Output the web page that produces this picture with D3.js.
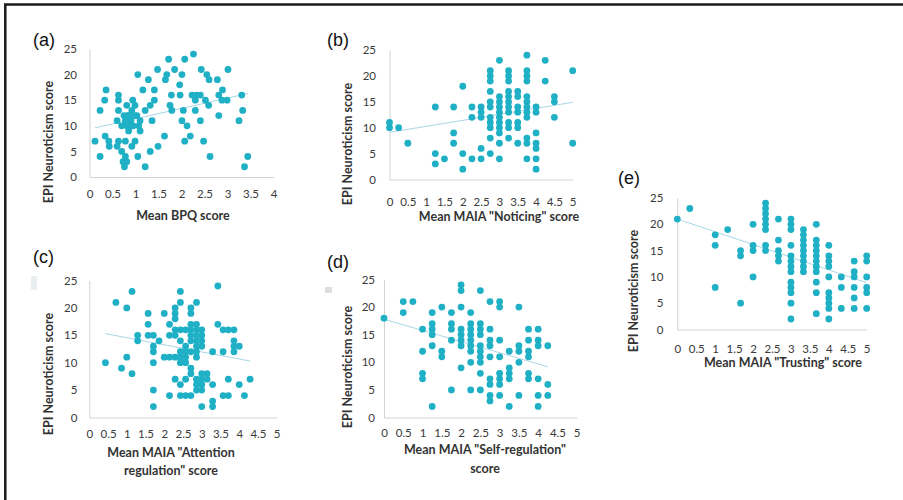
<!DOCTYPE html>
<html><head><meta charset="utf-8">
<script src="https://cdn.jsdelivr.net/npm/d3@7"></script>
<style>
body{margin:0;background:#fff}
svg{display:block}
</style></head><body>
<svg id="chart" width="903" height="500"></svg>
<script>
// ---------- DATA ----------
const yTicks = [0, 5, 10, 15, 20, 25];
const bpqTicks = [0, 0.5, 1, 1.5, 2, 2.5, 3, 3.5, 4];
const maiaTicks = [0, 0.5, 1, 1.5, 2, 2.5, 3, 3.5, 4, 4.5, 5];

// (a) grouped by neuroticism score: level -> BPQ x values
const aLevels = [24, 23, 21, 20, 19, 18, 17, 16, 15, 14, 13, 12, 11, 10, 9, 8, 7, 6, 5, 4, 3, 2];
const aXs = [
  [2.26],
  [1.72, 2.07],
  [1.48, 1.85, 2.43, 3.01],
  [1.05, 1.68, 2.01, 2.55],
  [1.28, 1.65, 2.60, 2.78],
  [1.96],
  [0.36, 1.16, 1.41, 2.89],
  [0.63, 1.78, 1.97, 2.23, 2.33, 2.41, 2.81, 3.31],
  [0.33, 0.63, 0.94, 1.41, 2.30, 2.52, 2.88, 2.99],
  [0.81, 0.99, 1.32, 1.75, 2.59],
  [0.23, 0.63, 0.92, 1.21, 1.79, 2.04, 2.30, 3.33],
  [0.85, 1.03, 2.81, 0.83, 0.75, 0.98],
  [0.60, 0.78, 0.88, 1.10, 1.36, 2.01, 2.41, 3.25, 0.90, 0.86, 0.80],
  [0.70, 0.81, 0.92, 1.07, 2.12, 0.95, 0.88],
  [0.85, 1.10],
  [0.34, 1.63, 2.19],
  [0.12, 0.42, 0.63, 0.78, 0.99, 2.07, 2.48],
  [0.43, 0.60, 0.92, 1.49],
  [0.70, 1.32],
  [0.23, 0.78, 1.05, 2.62, 3.44],
  [0.73, 0.81],
  [0.76, 1.21, 3.37]
];
const aTrend = [[0.12, 9.6], [3.44, 16.3]];

// (b) Noticing: column x -> scores
const bCols = [0, 0.25, 0.5, 1.25, 1.5, 1.75, 2, 2.25, 2.5, 2.75, 3, 3.25, 3.5, 3.75, 4, 4.25, 4.5, 5];
const bVals = [
  [11, 10], [10], [7], [14, 5, 3], [4], [14, 9, 7], [18, 5, 2], [14, 12, 4],
  [14, 13, 12, 6, 4],
  [21, 20, 19, 17, 15, 14, 12, 11, 10, 8, 5],
  [23, 16, 15, 14, 13, 12, 11, 10, 9, 7, 4],
  [21, 20, 19, 17, 16, 15, 14, 13, 11, 10, 8],
  [17, 16, 14, 13, 11, 10, 7],
  [24, 21, 20, 19, 16, 15, 14, 13, 12, 8, 7, 4],
  [14, 13, 9, 7, 6, 4, 2],
  [23, 19], [16, 15, 12], [21, 7]
];
const bTrend = [[0, 9.1], [5, 14.9]];

// (c) Attention regulation
const cCols = [0.43, 0.71, 0.86, 1.0, 1.14, 1.29, 1.57, 1.71, 1.86, 2.0, 2.14, 2.29, 2.43, 2.57, 2.71, 2.86, 3.0, 3.14, 3.29, 3.43, 3.57, 3.71, 3.86, 4.0, 4.14, 4.29];
const cVals = [
  [10], [21], [9], [20, 11], [23, 8], [15, 14], [19, 17, 15], [15, 13, 12, 10, 5, 2], [14], [19, 11],
  [17, 15, 11, 4],
  [20, 19, 18, 16, 15, 11, 7],
  [23, 21, 16, 14, 12, 11, 10, 6, 4],
  [16, 13, 12, 11, 10, 7, 4],
  [20, 19, 17, 16, 15, 14, 12, 9, 8, 4],
  [21, 17, 16, 15, 14, 13, 12, 11, 7, 6, 5],
  [16, 15, 14, 13, 8, 7, 6, 5, 2],
  [8, 7], [12, 6, 3, 2], [24, 17], [16, 12, 4], [16, 7, 4], [16, 14, 13, 12], [13, 6], [4], [7]
];
const cTrend = [[0.43, 15.3], [4.29, 10.3]];

// (d) Self-regulation
const dCols = [0, 0.5, 0.75, 1.0, 1.25, 1.5, 1.75, 2.0, 2.25, 2.5, 2.75, 3.0, 3.25, 3.5, 3.75, 4.0, 4.25];
const dVals = [
  [18], [21, 19], [21], [16, 12, 8, 7], [19, 17, 16, 15, 13, 2], [20, 12, 11], [19, 17, 16, 14, 5],
  [24, 23, 20, 16, 15, 14, 13, 9],
  [19, 17, 16, 15, 14, 13, 12, 10, 5],
  [23, 17, 16, 15, 13, 12, 11, 10, 8, 5],
  [21, 16, 14, 13, 11, 7, 6, 4, 3],
  [21, 20, 14, 11, 8, 7, 6, 4],
  [12, 9, 8, 7, 2], [20, 13, 12, 10, 4], [16, 14, 12, 11, 8, 7], [16, 14, 13, 7, 4, 2], [13, 6, 4]
];
const dTrend = [[0, 17.8], [4.25, 9.2]];

// (e) Trusting
const eCols = [0, 0.33, 1.0, 1.33, 1.67, 2.0, 2.33, 2.67, 3.0, 3.33, 3.67, 4.0, 4.33, 4.67, 5.0];
const eVals = [
  [21], [23], [18, 16, 8], [19], [15, 14, 5], [20, 16, 15, 10],
  [24, 23, 22, 21, 20, 19, 16, 15],
  [21, 17, 15, 14, 13],
  [21, 20, 19, 16, 14, 13, 12, 11, 9, 8, 7, 5, 2],
  [19, 18, 17, 16, 15, 14, 13, 12, 11],
  [20, 17, 16, 15, 14, 13, 12, 11, 9, 7, 3],
  [16, 14, 13, 12, 10, 7, 6, 5, 4, 2],
  [10, 8, 4], [13, 11, 10, 8, 6, 4], [14, 13, 10, 8, 7, 4]
];
const eTrend = [[0, 21.0], [5, 8.9]];

const yTitle = "EPI Neuroticism score";

// ---------- DRAW ----------
const svg = d3.select("#chart");
svg.append("rect").attr("width", 903).attr("height", 500).attr("fill", "#fff");
svg.append("path").attr("d", "M5.3,500V4.5H903").attr("fill", "none")
  .attr("stroke", "#1a1a1a").attr("stroke-width", 2.5);

const DOT = "#1fb0c6";

function byCols(cols, vals) {
  const pts = [];
  cols.forEach((c, i) => vals[i].forEach(v => pts.push([c, v])));
  return pts;
}
function byRows(levels, xs) {
  const pts = [];
  levels.forEach((l, i) => xs[i].forEach(v => pts.push([v, l])));
  return pts;
}

function drawPanel(p) {
  const x = d3.scaleLinear().domain(p.xDomain).range(p.xRange);
  const y = d3.scaleLinear().domain([0, 25]).range([p.y0, p.y25]);
  const g = svg.append("g");

  const xa = g.append("g").attr("transform", `translate(0,${p.y0})`)
    .call(d3.axisBottom(x).tickValues(p.xTicks).tickSize(0).tickPadding(p.xPad).tickFormat(d => String(d)));
  const ya = g.append("g").attr("transform", `translate(${p.xRange[0]},0)`)
    .call(d3.axisLeft(y).tickValues(yTicks).tickSize(0).tickPadding(p.yPad).tickFormat(d => String(d)));
  [xa, ya].forEach(a => {
    a.select(".domain").attr("stroke", "#d2d2d2").attr("stroke-width", 1);
    a.selectAll("text").attr("font-family", "Lato, 'Open Sans', sans-serif")
      .attr("font-size", 11.5).attr("fill", "#3a3a3a");
  });

  g.append("line")
    .attr("x1", x(p.trend[0][0])).attr("y1", y(p.trend[0][1]))
    .attr("x2", x(p.trend[1][0])).attr("y2", y(p.trend[1][1]))
    .attr("stroke", "#a9d6e6").attr("stroke-width", 1);

  g.selectAll("circle.pt").data(p.points).join("circle").attr("class", "pt")
    .attr("cx", d => x(d[0])).attr("cy", d => y(d[1])).attr("r", 3.4).attr("fill", DOT);

  g.append("text").attr("x", p.letter[0]).attr("y", p.letter[1])
    .attr("dominant-baseline", "central")
    .attr("font-family", "'Liberation Sans', Arial, sans-serif").attr("font-size", 18).attr("fill", "#111")
    .text(p.label);

  const xt = g.append("text").attr("text-anchor", "middle")
    .attr("font-family", "Lato, 'Open Sans', sans-serif").attr("font-weight", "bold")
    .attr("font-size", 12.5).attr("fill", "#333");
  p.xTitle.forEach((t, i) => xt.append("tspan").attr("x", p.xTitlePos[0])
    .attr("y", p.xTitlePos[1] + i * p.lineGap).attr("dominant-baseline", "central").text(t));

  g.append("text").attr("transform", `translate(${p.yTitlePos[0]},${p.yTitlePos[1]}) rotate(-90)`)
    .attr("text-anchor", "middle").attr("dominant-baseline", "central")
    .attr("font-family", "Lato, 'Open Sans', sans-serif").attr("font-weight", "bold")
    .attr("font-size", 12.5).attr("fill", "#333").text(yTitle);
}

drawPanel({ label: "(a)", xDomain: [0, 4], xRange: [89.5, 273.5], y0: 177, y25: 49,
  xTicks: bpqTicks, xPad: 13, yPad: 12.5, points: byRows(aLevels, aXs), trend: aTrend,
  letter: [33, 40], xTitle: ["Mean BPQ score"], xTitlePos: [183, 215], lineGap: 0, yTitlePos: [48, 142] });

drawPanel({ label: "(b)", xDomain: [0, 5], xRange: [389.5, 572.7], y0: 179.5, y25: 50,
  xTicks: maiaTicks, xPad: 18, yPad: 13.5, points: byCols(bCols, bVals), trend: bTrend,
  letter: [327, 40], xTitle: ['Mean MAIA "Noticing" score'], xTitlePos: [499, 216], lineGap: 0, yTitlePos: [347, 144] });

drawPanel({ label: "(c)", xDomain: [0, 5], xRange: [89.3, 276.7], y0: 417.5, y25: 280.5,
  xTicks: maiaTicks, xPad: 12, yPad: 12, points: byCols(cCols, cVals), trend: cTrend,
  letter: [33, 257], xTitle: ['Mean MAIA "Attention', 'regulation" score'], xTitlePos: [171, 452.3], lineGap: 17.7, yTitlePos: [48, 374] });

drawPanel({ label: "(d)", xDomain: [0, 5], xRange: [384, 576.7], y0: 417.5, y25: 279.5,
  xTicks: maiaTicks, xPad: 11.5, yPad: 9, points: byCols(dCols, dVals), trend: dTrend,
  letter: [327, 262], xTitle: ['Mean MAIA "Self-regulation"', 'score'], xTitlePos: [485, 449.3], lineGap: 19, yTitlePos: [347, 367] });

drawPanel({ label: "(e)", xDomain: [0, 5], xRange: [677.3, 866.7], y0: 329.5, y25: 198,
  xTicks: maiaTicks, xPad: 15, yPad: 14, points: byCols(eCols, eVals), trend: eTrend,
  letter: [618, 178], xTitle: ['Mean MAIA "Trusting" score'], xTitlePos: [783, 362.7], lineGap: 0, yTitlePos: [633, 291] });

// faint legend remnants visible in the source figure
svg.append("rect").attr("x", 31).attr("y", 276).attr("width", 6).attr("height", 14).attr("fill", "#e9eef1");
svg.append("rect").attr("x", 325).attr("y", 287).attr("width", 7).attr("height", 6).attr("fill", "#dedede");
</script>
</body></html>
